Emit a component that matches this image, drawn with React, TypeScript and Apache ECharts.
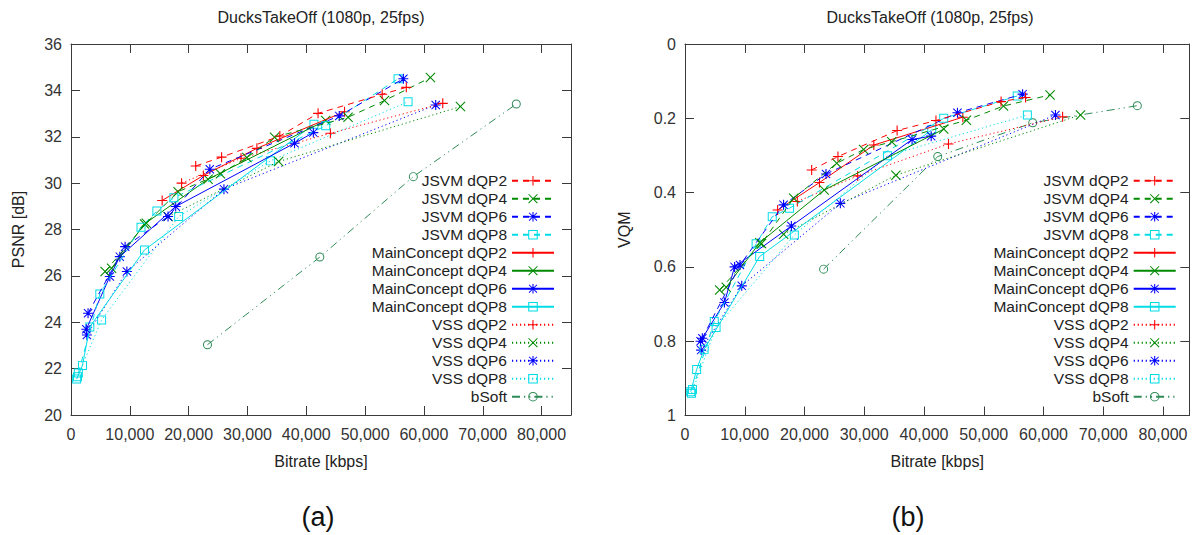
import React, { useEffect, useRef } from "react";
import * as echarts from "echarts";

// ---------- data (bitrate in kbps, PSNR in dB, VQM) ----------
const jsvmDqp2Bitrate = [21200, 25600, 35500, 42000, 52900, 57000];
const jsvmDqp2Psnr = [30.74, 31.12, 32.03, 33.01, 33.83, 34.13];
const jsvmDqp2Vqm = [0.339, 0.303, 0.233, 0.206, 0.155, 0.144];

const jsvmDqp4Bitrate = [5800, 12800, 18200, 25400, 29900, 34600, 47100, 53300, 61100];
const jsvmDqp4Psnr = [26.19, 28.27, 29.63, 30.4, 31.1, 31.98, 32.84, 33.56, 34.55];
const jsvmDqp4Vqm = [0.662, 0.537, 0.415, 0.321, 0.284, 0.263, 0.205, 0.167, 0.137];

const jsvmDqp6Bitrate = [2900, 9200, 16500, 23600, 45600, 56500];
const jsvmDqp6Psnr = [24.39, 27.26, 28.56, 30.6, 32.9, 34.5];
const jsvmDqp6Vqm = [0.792, 0.595, 0.433, 0.35, 0.185, 0.135];

const jsvmDqp8Bitrate = [1250, 4900, 11900, 14600, 17500, 43300, 55600];
const jsvmDqp8Psnr = [21.81, 25.22, 28.1, 28.8, 29.37, 32.47, 34.5];
const jsvmDqp8Vqm = [0.93, 0.747, 0.538, 0.465, 0.442, 0.2, 0.14];

const mcDqp2Bitrate = [15500, 22500, 31600, 46500];
const mcDqp2Psnr = [29.25, 30.33, 31.5, 33.08];
const mcDqp2Vqm = [0.447, 0.373, 0.272, 0.197];

const mcDqp4Bitrate = [6900, 12500, 23300, 43300];
const mcDqp4Psnr = [26.33, 28.24, 30.17, 32.7];
const mcDqp4Vqm = [0.655, 0.535, 0.393, 0.229];

const mcDqp6Bitrate = [2600, 6600, 8300, 17800, 38000, 41200];
const mcDqp6Psnr = [23.7, 25.97, 26.83, 28.99, 31.72, 32.18];
const mcDqp6Vqm = [0.8, 0.696, 0.6, 0.49, 0.257, 0.248];

const mcDqp8Bitrate = [960, 1950, 3200, 12500, 41300];
const mcDqp8Psnr = [21.55, 22.14, 23.8, 27.12, 32.54];
const mcDqp8Vqm = [0.936, 0.876, 0.822, 0.572, 0.231];

const vssDqp2Bitrate = [18800, 28900, 44100, 63200];
const vssDqp2Psnr = [30.0, 31.07, 32.15, 33.44];
const vssDqp2Vqm = [0.424, 0.355, 0.269, 0.196];

const vssDqp4Bitrate = [16500, 35300, 66200];
const vssDqp4Psnr = [28.56, 30.93, 33.3];
const vssDqp4Vqm = [0.512, 0.353, 0.191];

const vssDqp6Bitrate = [2700, 9500, 26000, 62000];
const vssDqp6Psnr = [23.45, 26.19, 29.74, 33.37];
const vssDqp6Vqm = [0.824, 0.651, 0.429, 0.191];

const vssDqp8Bitrate = [1100, 5200, 18300, 33900, 57300];
const vssDqp8Psnr = [21.65, 24.1, 28.56, 30.96, 33.51];
const vssDqp8Vqm = [0.94, 0.763, 0.514, 0.301, 0.191];

const bsoftBitrate = [23200, 42300, 58200, 75700];
const bsoftPsnr = [23.03, 26.81, 30.28, 33.41];
const bsoftVqm = [0.606, 0.303, 0.212, 0.166];

const seriesNames = [
  "JSVM dQP2", "JSVM dQP4", "JSVM dQP6", "JSVM dQP8",
  "MainConcept dQP2", "MainConcept dQP4", "MainConcept dQP6", "MainConcept dQP8",
  "VSS dQP2", "VSS dQP4", "VSS dQP6", "VSS dQP8",
  "bSoft",
];

const titleText = "DucksTakeOff (1080p, 25fps)";
const panelLabels = ["(a)", "(b)"];
const xName = "Bitrate [kbps]";
const yNameA = "PSNR [dB]";
const yNameB = "VQM";

// ---------- styles ----------
const FONT = "'Liberation Sans', Arial, Helvetica, sans-serif";
const RED = "#ff0000";
const GREEN = "#008a00";
const BLUE = "#0000ff";
const CYAN = "#00dce6";
const SEA = "#2e8b57";

const PLUS = "path://M4.45,0H5.55V4.45H10V5.55H5.55V10H4.45V5.55H0V4.45H4.45Z";
const CROSS =
  "path://M0.75,0L5,4.25L9.25,0L10,0.75L5.75,5L10,9.25L9.25,10L5,5.75L0.75,10L0,9.25L4.25,5L0,0.75Z";
const STAR =
  "path://M4.45,0H5.55V4.45H10V5.55H5.55V10H4.45V5.55H0V4.45H4.45Z M1.2,0.5L5,4.3L8.8,0.5L9.5,1.2L5.7,5L9.5,8.8L8.8,9.5L5,5.7L1.2,9.5L0.5,8.8L4.3,5L0.5,1.2Z";
const SQUARE = "path://M0,0H10V10H0Z M1.1,1.1V8.9H8.9V1.1Z";
const CIRCLE =
  "path://M5,0A5,5,0,1,1,5,10A5,5,0,1,1,5,0Z M5,1.1A3.9,3.9,0,1,0,5,8.9A3.9,3.9,0,1,0,5,1.1Z";

const SOLID: any = "solid";
const DASHED = [6, 5];
const DOTTED = [1.2, 2.8];
const DASHDOT = [8, 4, 1.2, 4, 1.2, 4];

type Def = {
  color: string;
  symbol: string;
  size: number;
  dash: any;
  bitrate: number[];
  psnr: number[];
  vqm: number[];
};

const defs: Def[] = [
  { color: RED, symbol: PLUS, size: 10, dash: DASHED, bitrate: jsvmDqp2Bitrate, psnr: jsvmDqp2Psnr, vqm: jsvmDqp2Vqm },
  { color: GREEN, symbol: CROSS, size: 10, dash: DASHED, bitrate: jsvmDqp4Bitrate, psnr: jsvmDqp4Psnr, vqm: jsvmDqp4Vqm },
  { color: BLUE, symbol: STAR, size: 10, dash: DASHED, bitrate: jsvmDqp6Bitrate, psnr: jsvmDqp6Psnr, vqm: jsvmDqp6Vqm },
  { color: CYAN, symbol: SQUARE, size: 9, dash: DASHED, bitrate: jsvmDqp8Bitrate, psnr: jsvmDqp8Psnr, vqm: jsvmDqp8Vqm },
  { color: RED, symbol: PLUS, size: 10, dash: SOLID, bitrate: mcDqp2Bitrate, psnr: mcDqp2Psnr, vqm: mcDqp2Vqm },
  { color: GREEN, symbol: CROSS, size: 10, dash: SOLID, bitrate: mcDqp4Bitrate, psnr: mcDqp4Psnr, vqm: mcDqp4Vqm },
  { color: BLUE, symbol: STAR, size: 10, dash: SOLID, bitrate: mcDqp6Bitrate, psnr: mcDqp6Psnr, vqm: mcDqp6Vqm },
  { color: CYAN, symbol: SQUARE, size: 9, dash: SOLID, bitrate: mcDqp8Bitrate, psnr: mcDqp8Psnr, vqm: mcDqp8Vqm },
  { color: RED, symbol: PLUS, size: 10, dash: DOTTED, bitrate: vssDqp2Bitrate, psnr: vssDqp2Psnr, vqm: vssDqp2Vqm },
  { color: GREEN, symbol: CROSS, size: 10, dash: DOTTED, bitrate: vssDqp4Bitrate, psnr: vssDqp4Psnr, vqm: vssDqp4Vqm },
  { color: BLUE, symbol: STAR, size: 10, dash: DOTTED, bitrate: vssDqp6Bitrate, psnr: vssDqp6Psnr, vqm: vssDqp6Vqm },
  { color: CYAN, symbol: SQUARE, size: 9, dash: DOTTED, bitrate: vssDqp8Bitrate, psnr: vssDqp8Psnr, vqm: vssDqp8Vqm },
  { color: SEA, symbol: CIRCLE, size: 9, dash: DASHDOT, bitrate: bsoftBitrate, psnr: bsoftPsnr, vqm: bsoftVqm },
];

const AXIS_COLOR = "#3a3a3a";
const LABEL_COLOR = "#333333";

function pairs(x: number[], y: number[]) {
  return x.map((v, i) => [v, y[i]]);
}

function xAxes(gridIndex: number, max: number) {
  const common = {
    type: "value" as const,
    gridIndex,
    min: 0,
    max,
    interval: 10000,
    splitLine: { show: false },
    axisLine: { show: true, onZero: false, lineStyle: { color: AXIS_COLOR, width: 1 } },
    axisTick: { show: true, inside: true, length: 9, lineStyle: { color: AXIS_COLOR } },
  };
  return [
    {
      ...common,
      position: "bottom",
      name: xName,
      nameLocation: "middle",
      nameGap: 38,
      nameTextStyle: { fontSize: 16, fontFamily: FONT, color: "#222" },
      axisLabel: { fontSize: 16, fontFamily: FONT, color: LABEL_COLOR, margin: 11, showMaxLabel: max % 10000 === 0 },
    },
    { ...common, position: "top", axisLabel: { show: false } },
  ];
}

function yAxes(gridIndex: number, min: number, max: number, interval: number, inverse: boolean, name: string, nameGap: number) {
  const common = {
    type: "value" as const,
    gridIndex,
    min,
    max,
    interval,
    inverse,
    splitLine: { show: false },
    axisLine: { show: true, onZero: false, lineStyle: { color: AXIS_COLOR, width: 1 } },
    axisTick: { show: true, inside: true, length: 9, lineStyle: { color: AXIS_COLOR } },
  };
  return [
    {
      ...common,
      position: "left",
      name,
      nameLocation: "middle",
      nameGap,
      nameTextStyle: { fontSize: 16, fontFamily: FONT, color: "#222" },
      axisLabel: { fontSize: 16, fontFamily: FONT, color: LABEL_COLOR, margin: 9 },
    },
    { ...common, position: "right", axisLabel: { show: false } },
  ];
}

function legend(right: number) {
  return {
    data: seriesNames,
    orient: "vertical",
    right,
    top: 172.7,
    align: "right",
    padding: 0,
    itemWidth: 42,
    itemHeight: 12,
    itemGap: 2,
    selectedMode: false,
    textStyle: { fontSize: 15.5, fontFamily: FONT, color: "#222", lineHeight: 16 },
  };
}

function title(text: string, centerX: number, top: number, fontSize: number, color: string) {
  return {
    text,
    left: centerX,
    top,
    textAlign: "center",
    padding: 0,
    textStyle: { fontSize, fontFamily: FONT, fontWeight: "normal", color },
  };
}

export default function App() {
  const ref = useRef<HTMLDivElement>(null);

  useEffect(() => {
    if (!ref.current) return;
    const chart = echarts.init(ref.current, undefined, { renderer: "svg" });

    const series: any[] = [];
    defs.forEach((d, i) => {
      const base = {
        type: "line",
        name: seriesNames[i],
        symbol: d.symbol,
        symbolSize: d.size,
        showSymbol: true,
        showAllSymbol: true,
        lineStyle: { color: d.color, width: 1, type: d.dash },
        itemStyle: { color: d.color, borderWidth: 0 },
        emphasis: { disabled: true },
        silent: true,
        z: 3 + (12 - i) * 0.01,
      };
      series.push({ ...base, xAxisIndex: 0, yAxisIndex: 0, data: pairs(d.bitrate, d.psnr) });
      series.push({ ...base, xAxisIndex: 2, yAxisIndex: 2, data: pairs(d.bitrate, d.vqm) });
    });

    const option: any = {
      animation: false,
      backgroundColor: "#ffffff",
      textStyle: { fontFamily: FONT },
      title: [
        title(titleText, 321, 9, 16, "#222"),
        title(titleText, 930, 9, 16, "#222"),
        title(panelLabels[0], 318, 503.5, 27, "#111"),
        title(panelLabels[1], 908, 503.5, 27, "#111"),
      ],
      grid: [
        { left: 71, top: 44, width: 500, height: 371 },
        { left: 685, top: 44, width: 504.3, height: 371.5 },
      ],
      xAxis: [...xAxes(0, 85000), ...xAxes(1, 84400)],
      yAxis: [
        ...yAxes(0, 20, 36, 2, false, yNameA, 45),
        ...yAxes(1, 0, 1, 0.2, true, yNameB, 53),
      ],
      legend: [legend(641), legend(19.3)],
      series,
    };

    chart.setOption(option);
    return () => chart.dispose();
  }, []);

  return (
    <div
      ref={ref}
      style={{ position: "fixed", left: 0, top: 0, width: 1196, height: 535, background: "#fff" }}
    />
  );
}
